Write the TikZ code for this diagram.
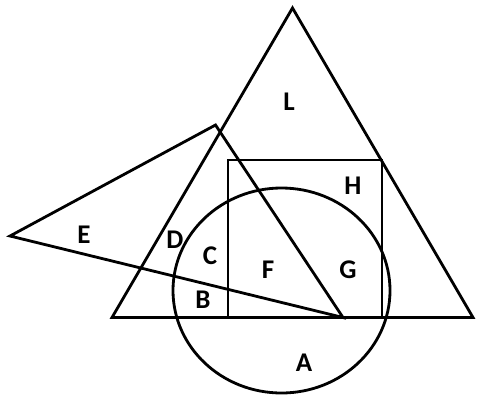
\documentclass[tikz,border=0pt]{standalone}
\usepackage{fontspec}
\setmainfont{Carlito}
\begin{document}
\begin{tikzpicture}[x=1pt,y=-1pt,line join=miter,
  shapeline/.style={draw=black,line width=2.8pt},
  lbl/.style={font=\fontsize{27}{27}\selectfont\bfseries,inner sep=0pt}]
\useasboundingbox (0,0) rectangle (481,407);
% big triangle
\coordinate (T1) at (292.5,8);
\coordinate (T2) at (112,317.5);
\coordinate (T3) at (473,317.5);
\draw[shapeline] (T1) -- (T2) -- (T3) -- cycle;
% square
\draw[shapeline] (228,160) rectangle (382,317.5);
% circle
\draw[shapeline] (281.5,290.5) ellipse [x radius=108.5, y radius=102.5];
% small triangle
\coordinate (S1) at (10,236);
\coordinate (S2) at (215.5,125);
\coordinate (S3) at (343,317.5);
\draw[shapeline] (S1) -- (S2) -- (S3) -- cycle;
% labels
\node[lbl] (L) at (289,102) {L};
\node[lbl] (H) at (353,186) {H};
\node[lbl] (E) at (84,235) {E};
\node[lbl] (D) at (175,240) {D};
\node[lbl] (C) at (210,256) {C};
\node[lbl] (F) at (268,270) {F};
\node[lbl] (G) at (348,270) {G};
\node[lbl] (B) at (203,300) {B};
\node[lbl] (A) at (304,363) {A};
\end{tikzpicture}
\end{document}
